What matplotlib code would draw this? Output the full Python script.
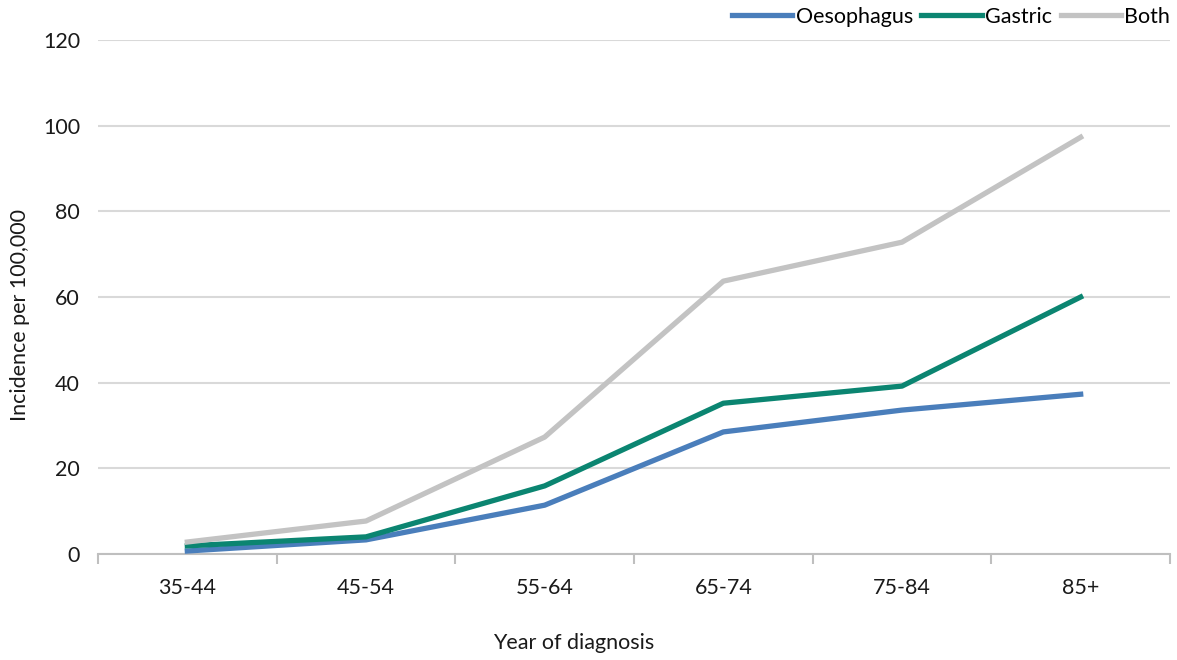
import matplotlib

matplotlib.use("Agg")
import matplotlib.pyplot as plt
import numpy as np

# Data
age_groups = ["35-44", "45-54", "55-64", "65-74", "75-84", "85+"]
oesophagus = [0.7, 3.3, 11.4, 28.5, 33.6, 37.3]
gastric = [1.9, 4.0, 15.9, 35.2, 39.2, 60.0]
both = [2.8, 7.7, 27.3, 63.7, 72.8, 97.3]

c_oes = "#4a7ebb"
c_gas = "#0b8571"
c_both = "#c3c3c3"
c_grid = "#d9d9d9"
c_axis = "#bfbfbf"
c_text = "#1a1a1a"
fs = 15.5

plt.rcParams["font.family"] = ["Lato", "DejaVu Sans"]

fig = plt.figure(figsize=(11.77, 6.6), dpi=100)
ax = fig.add_axes([98 / 1177, 106 / 660, 1072 / 1177, 514 / 660])

x = np.arange(len(age_groups))
lw = 3.8
ax.plot(x, oesophagus, color=c_oes, linewidth=lw, label="Oesophagus", zorder=3)
ax.plot(x, gastric, color=c_gas, linewidth=lw, label="Gastric", zorder=3)
ax.plot(x, both, color=c_both, linewidth=lw, label="Both", zorder=3)

ax.set_xlim(-0.5, len(age_groups) - 0.5)
ax.set_ylim(0, 120)
ax.set_yticks(range(0, 121, 20))
ax.tick_params(axis="y", length=0, labelsize=fs, colors=c_text, pad=13)

# category labels centred, ticks on boundaries
ax.set_xticks(x)
ax.set_xticklabels(age_groups)
ax.tick_params(axis="x", which="major", length=0, labelsize=fs, colors=c_text, pad=17)
ax.set_xticks(np.arange(-0.5, len(age_groups)), minor=True)
ax.tick_params(axis="x", which="minor", length=7, width=1.5, color=c_axis, direction="out")

ax.grid(axis="y", color=c_grid, linewidth=1.5, zorder=0)
for side in ["top", "right", "left"]:
    ax.spines[side].set_visible(False)
ax.spines["bottom"].set_color(c_axis)
ax.spines["bottom"].set_linewidth(1.5)

# axis titles sit a little off-centre in the original
ax.set_xlabel("Year of diagnosis", fontsize=fs, color=c_text, va="center")
ax.xaxis.set_label_coords((574 - 98) / 1072, (660 - 643 - 106) / 514)
ax.set_ylabel("Incidence per 100,000", fontsize=fs, color=c_text, va="center")
ax.yaxis.set_label_coords((20 - 98) / 1072, (554 - 315) / 514)

ax.legend(
    loc="center right",
    bbox_to_anchor=(1170 / 1177, 1 - 17 / 660),
    bbox_transform=fig.transFigure,
    ncol=3,
    frameon=False,
    fontsize=fs,
    handlelength=2.8,
    handletextpad=0.15,
    columnspacing=0.4,
    borderpad=0,
    borderaxespad=0,
)

fig.savefig("out.png", dpi=100, facecolor="white")
